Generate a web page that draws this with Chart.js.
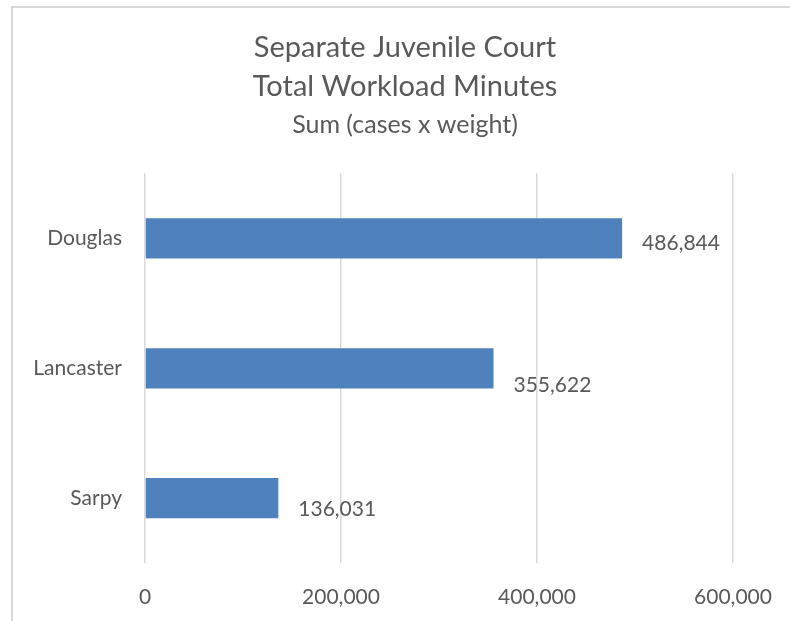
<!DOCTYPE html>
<html>
<head>
<meta charset="utf-8">
<script src="https://cdn.jsdelivr.net/npm/chart.js@4"></script>
<style>
html,body{margin:0;padding:0;background:#fff;}
#wrap{position:relative;width:790px;height:621px;overflow:hidden;}
#frame{position:absolute;left:11px;top:6px;width:800px;height:640px;border-left:2px solid #d9d9d9;border-top:2px solid #d9d9d9;box-sizing:border-box;}
canvas{position:absolute;left:0;top:0;}
</style>
</head>
<body>
<div id="wrap">
<div id="frame"></div>
<canvas id="c" width="790" height="621"></canvas>
</div>
<script>
const categories = ["Douglas", "Lancaster", "Sarpy"];
const workloadMinutes = [486844, 355622, 136031];
const xTickValues = [0, 200000, 400000, 600000];
const titleLines = ["Separate Juvenile Court", "Total Workload Minutes"];
const subtitleText = "Sum (cases x weight)";

const FONT = "Lato, 'Noto Sans', sans-serif";
const TEXT = "#595959";
const fmt = v => v.toLocaleString("en-US");

const valueLabels = {
  id: "valueLabels",
  afterDatasetsDraw(chart, args, opts) {
    const ctx = chart.ctx;
    const meta = chart.getDatasetMeta(0);
    ctx.save();
    ctx.font = "21px " + FONT;
    ctx.fillStyle = TEXT;
    ctx.textAlign = "left";
    ctx.textBaseline = "middle";
    meta.data.forEach((bar, i) => {
      const dy = (opts.dy && opts.dy[i]) || 0;
      ctx.fillText(fmt(chart.data.datasets[0].data[i]), bar.x + opts.dx, bar.y + dy);
    });
    ctx.restore();
  }
};

// shift the title blocks so they centre over the framed chart area like the reference
const titleShift = {
  id: "titleShift",
  afterLayout(chart, args, opts) {
    chart.boxes.forEach(b => {
      if (b.options && Object.prototype.hasOwnProperty.call(b.options, "text") && b.position === "top" && !b.axis) {
        b.left += opts.shift;
      }
    });
  }
};

new Chart(document.getElementById("c"), {
  type: "bar",
  data: {
    labels: categories,
    datasets: [{
      data: workloadMinutes,
      backgroundColor: "#4f81bd",
      borderWidth: 0,
      categoryPercentage: 1,
      barPercentage: 0.31
    }]
  },
  plugins: [valueLabels, titleShift],
  options: {
    indexAxis: "y",
    responsive: false,
    animation: false,
    devicePixelRatio: 1,
    layout: { padding: { left: 0, right: 57, top: 0, bottom: 11 } },
    plugins: {
      legend: { display: false },
      tooltip: { enabled: false },
      title: {
        display: true,
        text: titleLines,
        color: TEXT,
        font: { family: FONT, size: 29, weight: "normal", lineHeight: 1.345 },
        padding: { top: 28, bottom: 5 }
      },
      subtitle: {
        display: true,
        text: subtitleText,
        color: TEXT,
        font: { family: FONT, size: 25, weight: "normal", lineHeight: 1.1 },
        padding: { top: 0, bottom: 35 }
      },
      valueLabels: { dx: 20, dy: [5, 17, 11] },
      titleShift: { shift: 77 }
    },
    scales: {
      x: {
        min: 0,
        max: 600000,
        afterBuildTicks(scale) { scale.ticks = xTickValues.map(v => ({ value: v })); },
        afterFit(scale) { scale.height = 47; scale.paddingRight = 0; scale.paddingLeft = 0; },
        grid: { color: "#d9d9d9", lineWidth: 1.5, drawTicks: false },
        border: { display: false },
        ticks: {
          color: TEXT,
          font: { family: FONT, size: 21 },
          padding: 22,
          maxRotation: 0,
          callback: v => fmt(v)
        }
      },
      y: {
        grid: { display: false, drawTicks: false },
        border: { display: false },
        afterFit(scale) { scale.width = 145; },
        ticks: {
          color: TEXT,
          font: { family: FONT, size: 21 },
          padding: 23
        }
      }
    }
  }
});
</script>
</body>
</html>
